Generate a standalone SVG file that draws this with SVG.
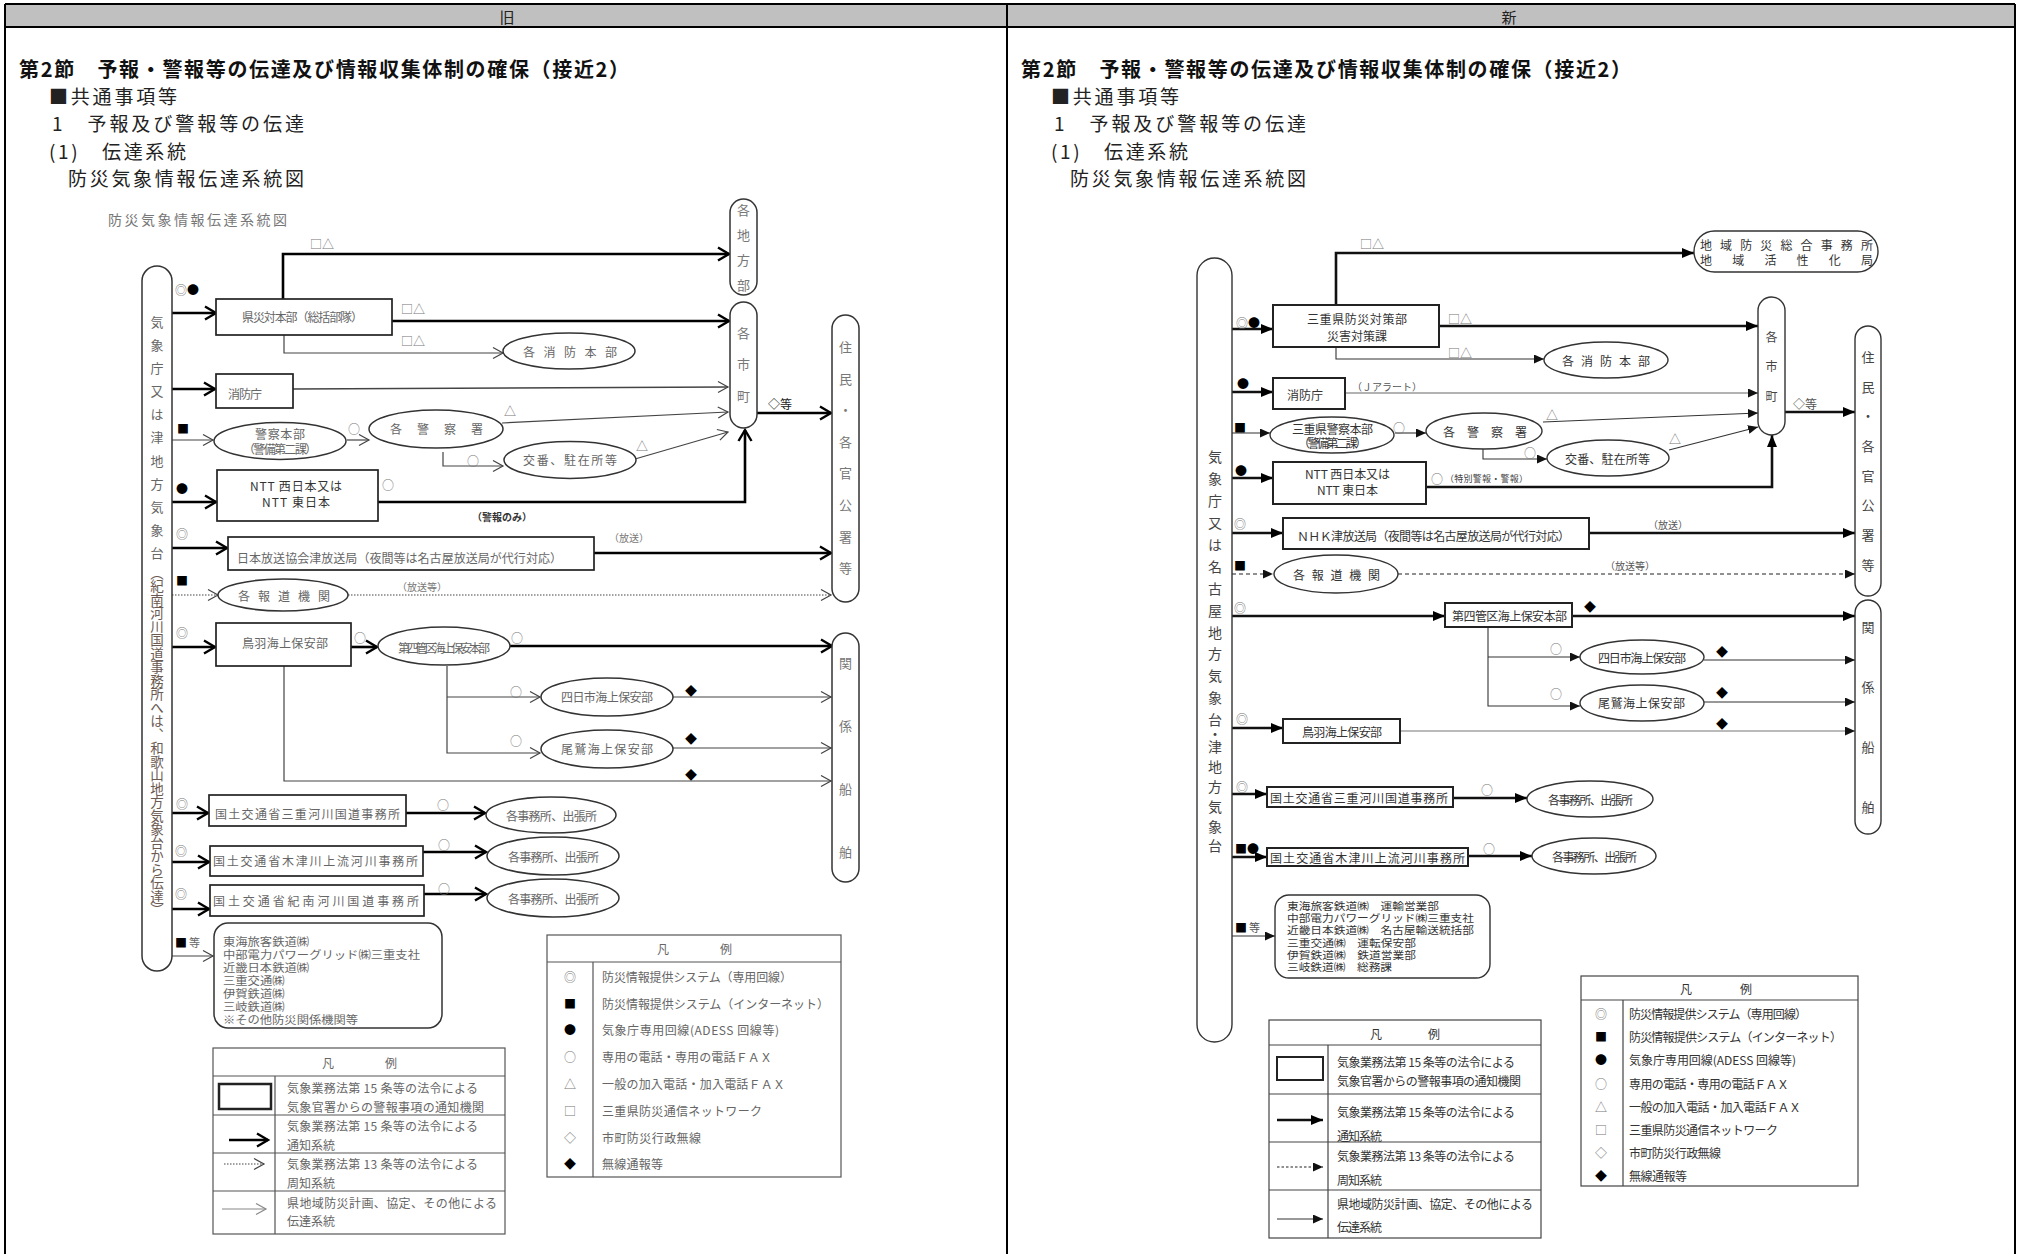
<svg xmlns="http://www.w3.org/2000/svg" width="2022" height="1254" viewBox="0 0 2022 1254">
<style>
text{font-family:"Noto Sans CJK JP","Noto Sans",sans-serif;dominant-baseline:central}
.h{font-size:19px;fill:#222}
.ti{font-size:20px;font-weight:bold;fill:#111}
.o{fill:#666;font-size:12px}
.od{fill:#333;font-size:12px}
.n{fill:#333;font-size:12px}
.m{text-anchor:middle}
.v{writing-mode:vertical-rl;text-anchor:start}
.ob{fill:#fff;stroke:#222;stroke-width:1.7}
.op{fill:#fff;stroke:#333;stroke-width:1.5}
.nb{fill:#fff;stroke:#222;stroke-width:2}
.np{fill:#fff;stroke:#333;stroke-width:1.4}
.k2{fill:none;stroke:#000;stroke-width:2.6}
.k1{fill:none;stroke:#444;stroke-width:1.2}
.kd{fill:none;stroke:#444;stroke-width:1.1;stroke-dasharray:1.5 1.5}
.n2{fill:none;stroke:#111;stroke-width:2.6}
.n1{fill:none;stroke:#333;stroke-width:1.1}
.ng{fill:none;stroke:#999;stroke-width:1.4}
.nd{fill:none;stroke:#222;stroke-width:1.1;stroke-dasharray:4 3}
.sg{fill:#777;font-size:12px}
.sb{fill:#000;font-size:12px}
.rl{fill:#666;font-size:10.8px}
.rn{fill:#333;font-size:10.2px}
</style>
<defs>
<marker id="ct" markerUnits="userSpaceOnUse" markerWidth="18" markerHeight="18" refX="13" refY="8" orient="auto"><path d="M2,1.5 L13,8 L2,14.5" fill="none" stroke="#000" stroke-width="2.4"/></marker>
<marker id="cn" markerUnits="userSpaceOnUse" markerWidth="15" markerHeight="14" refX="11" refY="6.5" orient="auto"><path d="M1,1 L11,6.5 L1,12" fill="none" stroke="#444" stroke-width="1.2"/></marker>
<marker id="cg" markerUnits="userSpaceOnUse" markerWidth="15" markerHeight="14" refX="11" refY="6.5" orient="auto"><path d="M1,1 L11,6.5 L1,12" fill="none" stroke="#888" stroke-width="1.2"/></marker>
<marker id="ft" markerUnits="userSpaceOnUse" markerWidth="14" markerHeight="12" refX="12" refY="5" orient="auto"><path d="M0,0 L12,5 L0,10 z" fill="#000"/></marker>
<marker id="fn" markerUnits="userSpaceOnUse" markerWidth="12" markerHeight="10" refX="10" refY="4.5" orient="auto"><path d="M0,0 L10,4.5 L0,9 z" fill="#111"/></marker>
</defs>
<rect width="2022" height="1254" fill="#fff"/>

<g id="page-frame">
<rect x="5" y="4" width="2010" height="23" fill="#c0c0c0"/>
<path d="M5,4H2015M5,27H2015" stroke="#000" stroke-width="1.8" fill="none"/>
<path d="M5,4V1254M1007,4V1254M2015,4V1254" stroke="#000" stroke-width="2" fill="none"/>
<text x="507" y="16" class="m" font-size="15" fill="#222">旧</text>
<text x="1509" y="16" class="m" font-size="15" fill="#222">新</text>
</g>

<g id="headings-old">
<text x="19" y="68" class="ti" textLength="610">第2節　予報・警報等の伝達及び情報収集体制の確保（接近2）</text>
<text x="49" y="95" class="h" textLength="128">■共通事項等</text>
<text x="52" y="122" class="h" textLength="252">1　予報及び警報等の伝達</text>
<text x="49" y="150" class="h" textLength="137">(1)　伝達系統</text>
<text x="68" y="177" class="h" textLength="236">防災気象情報伝達系統図</text>
</g>
<g id="headings-new">
<text x="1021" y="68" class="ti" textLength="610">第2節　予報・警報等の伝達及び情報収集体制の確保（接近2）</text>
<text x="1051" y="95" class="h" textLength="128">■共通事項等</text>
<text x="1054" y="122" class="h" textLength="252">1　予報及び警報等の伝達</text>
<text x="1051" y="150" class="h" textLength="137">(1)　伝達系統</text>
<text x="1070" y="177" class="h" textLength="236">防災気象情報伝達系統図</text>
</g>

<!-- ================= OLD DIAGRAM ================= -->
<g id="old-diagram">
<text id="o-caption" x="108" y="219" font-size="14" fill="#777" textLength="179">防災気象情報伝達系統図</text>

<g id="o-connectors">
<path class="k2" d="M172,313H216" marker-end="url(#ct)"/>
<path class="k2" d="M283,299V254H729" marker-end="url(#ct)"/>
<path class="k2" d="M392,321H729" marker-end="url(#ct)"/>
<path class="k1" d="M284,335V353H503" marker-end="url(#cn)"/>
<path class="k2" d="M172,389H215" marker-end="url(#ct)"/>
<path class="k1" style="stroke-width:1.6" d="M293,389L728,387" marker-end="url(#cn)"/>
<path class="k1" d="M172,440H213" marker-end="url(#cn)"/>
<path class="k1" d="M347,440H369" marker-end="url(#cn)"/>
<path class="k1" d="M502,423L728,412" marker-end="url(#cn)"/>
<path class="k1" d="M443,452V466H503" marker-end="url(#cn)"/>
<path class="k1" d="M635,459L728,432" marker-end="url(#cn)"/>
<path class="k2" d="M172,502H216" marker-end="url(#ct)"/>
<path class="k2" d="M378,502H745V430" marker-end="url(#ct)"/>
<path class="k2" d="M757,413H831" marker-end="url(#ct)"/>
<path class="k2" d="M172,548H227" marker-end="url(#ct)"/>
<path class="k2" d="M594,553H831" marker-end="url(#ct)"/>
<path class="kd" d="M172,595H218" marker-end="url(#cn)"/>
<path class="kd" d="M348,595H831" marker-end="url(#cn)"/>
<path class="k2" d="M172,647H215" marker-end="url(#ct)"/>
<path class="k2" d="M351,647H377" marker-end="url(#ct)"/>
<path class="k2" d="M510,646H832" marker-end="url(#ct)"/>
<path class="k1" d="M447,666V753H540" marker-end="url(#cn)"/>
<path class="k1" d="M447,697H540" marker-end="url(#cn)"/>
<path class="k1" d="M673,697H831" marker-end="url(#cn)"/>
<path class="k1" d="M673,748H831" marker-end="url(#cn)"/>
<path class="k1" d="M284,666V781H831" marker-end="url(#cn)"/>
<path class="k2" d="M172,813H208" marker-end="url(#ct)"/>
<path class="k2" d="M406,813H485" marker-end="url(#ct)"/>
<path class="k2" d="M172,862H209" marker-end="url(#ct)"/>
<path class="k2" d="M423,852H486" marker-end="url(#ct)"/>
<path class="k2" d="M172,909H209" marker-end="url(#ct)"/>
<path class="k2" d="M424,894H486" marker-end="url(#ct)"/>
<path class="k1" d="M172,956H213" marker-end="url(#cn)"/>
</g>

<g id="o-labels">
<text x="181" y="289" class="sg m">◎</text><text x="193" y="289" class="sb m">●</text>
<text x="316" y="243" class="sg m">□</text><text x="328" y="243" class="sg m">△</text>
<text x="407" y="308" class="sg m">□</text><text x="419" y="308" class="sg m">△</text>
<text x="407" y="340" class="sg m">□</text><text x="419" y="340" class="sg m">△</text>
<text x="183" y="428" class="sb m">■</text>
<text x="354" y="428" class="sg m">○</text>
<text x="510" y="410" class="sg m">△</text>
<text x="473" y="460" class="sg m">○</text>
<text x="642" y="445" class="sg m">△</text>
<text x="182" y="488" class="sb m">●</text>
<text x="388" y="484" class="sg m">○</text>
<text x="472" y="516" font-size="10" font-weight="bold" fill="#333" textLength="60">（警報のみ）</text>
<text x="768" y="403" font-size="12" fill="#222" textLength="24">◇等</text>
<text x="182" y="533" class="sg m">◎</text>
<text x="609" y="537" font-size="10" fill="#777" textLength="40">（放送）</text>
<text x="397" y="586" font-size="10" fill="#777" textLength="50">（放送等）</text>
<text x="182" y="580" class="sb m">■</text>
<text x="182" y="632" class="sg m">◎</text>
<text x="360" y="637" class="sg m">○</text>
<text x="517" y="637" class="sg m">○</text>
<text x="516" y="691" class="sg m">○</text>
<text x="691" y="690" class="sb m" font-size="10">◆</text>
<text x="516" y="740" class="sg m">○</text>
<text x="691" y="738" class="sb m" font-size="10">◆</text>
<text x="691" y="774" class="sb m" font-size="10">◆</text>
<text x="182" y="803" class="sg m">◎</text><text x="443" y="804" class="sg m">○</text>
<text x="181" y="850" class="sg m">◎</text><text x="444" y="844" class="sg m">○</text>
<text x="181" y="893" class="sg m">◎</text><text x="444" y="888" class="sg m">○</text>
<text x="181" y="942" class="sb m">■</text><text x="189" y="942" font-size="11" fill="#666">等</text>
</g>

<g id="o-jma">
<rect class="op" x="142" y="266" width="30" height="705" rx="15"/>
<text class="v" x="157" y="315.5" font-size="13" letter-spacing="10.1" fill="#666">気象庁又は津地方気象台</text>
<text class="v" x="157" y="566" font-size="13.5" fill="#6a5a52">（紀南河川国道事務所へは、和歌山地方気象台から伝達）</text>
</g>
<g id="o-ken"><rect class="ob" x="216" y="299" width="176" height="36"/><text x="242" y="316" class="o" font-size="11" textLength="121">県災対本部（総括部隊）</text></g>
<g id="o-chiho"><rect class="op" x="730" y="199" width="27" height="96" rx="13.5"/><text class="v" x="743.5" y="203.5" font-size="13" letter-spacing="12" fill="#777">各地方部</text></g>
<g id="o-shicho"><rect class="op" x="730" y="302" width="27" height="126" rx="13.5"/><text class="v" x="743.5" y="326.5" font-size="13" letter-spacing="18.5" fill="#777">各市町</text></g>
<g id="o-shobo"><ellipse class="op" cx="569" cy="351" rx="66" ry="18"/><text x="523" y="351" class="o" textLength="94">各消防本部</text></g>
<g id="o-fdma"><rect class="ob" x="216" y="374" width="77" height="34"/><text x="228" y="393" class="o" font-size="11" textLength="34">消防庁</text></g>
<g id="o-police"><ellipse class="op" cx="280" cy="441" rx="66" ry="18.5"/><text x="255" y="433.5" class="o" font-size="13" textLength="50">警察本部</text><text x="243" y="448.5" class="o" font-size="10.5" textLength="74">（警備第二課）</text></g>
<g id="o-station"><ellipse class="op" cx="436" cy="429" rx="67" ry="19"/><text x="390" y="428" class="o" textLength="93">各警察署</text></g>
<g id="o-koban"><ellipse class="op" cx="570" cy="460" rx="66" ry="18.5"/><text x="523" y="459" class="o" font-size="12.5" textLength="94">交番、駐在所等</text></g>
<g id="o-ntt"><rect class="ob" x="217" y="470" width="161" height="51"/><text x="250" y="485" class="od" font-size="13" textLength="92">NTT 西日本又は</text><text x="262" y="501" class="od" font-size="13" textLength="68">NTT 東日本</text></g>
<g id="o-nhk"><rect class="ob" x="228" y="537" width="366" height="33"/><text x="237" y="557" class="o" textLength="325">日本放送協会津放送局（夜間等は名古屋放送局が代行対応）</text></g>
<g id="o-jumin"><rect class="op" x="832" y="315" width="27" height="287" rx="13.5"/><text class="v" x="845.5" y="340.5" font-size="13" letter-spacing="18.6" fill="#777">住民・各官公署等</text></g>
<g id="o-media"><ellipse class="op" cx="283" cy="595" rx="65" ry="16"/><text x="238" y="595" class="o" textLength="92">各報道機関</text></g>
<g id="o-toba"><rect class="ob" x="216" y="623" width="135" height="43"/><text x="242" y="642" class="o" font-size="13" textLength="86">鳥羽海上保安部</text></g>
<g id="o-4kanku"><ellipse class="op" cx="444" cy="646" rx="66" ry="19"/><text x="398" y="647" class="o" font-size="9" textLength="92">第四管区海上保安本部</text></g>
<g id="o-yokkaichi"><ellipse class="op" cx="607" cy="697" rx="66" ry="19"/><text x="561" y="696" class="o" font-size="11" textLength="92">四日市海上保安部</text></g>
<g id="o-owase"><ellipse class="op" cx="607" cy="749" rx="66" ry="19"/><text x="561" y="748" class="o" font-size="13" textLength="92">尾鷲海上保安部</text></g>
<g id="o-sempaku"><rect class="op" x="832" y="633" width="27" height="249" rx="13.5"/><text class="v" x="845.5" y="656.5" font-size="13" letter-spacing="50" fill="#777">関係船舶</text></g>
<g id="o-mie"><rect class="ob" x="209" y="795" width="197" height="31"/><text x="215" y="813" class="o" textLength="185">国土交通省三重河川国道事務所</text></g>
<g id="o-office1"><ellipse class="op" cx="551" cy="815" rx="65" ry="18"/><text x="506" y="815" class="o" font-size="11" textLength="91">各事務所、出張所</text></g>
<g id="o-kizu"><rect class="ob" x="210" y="846" width="213" height="30"/><text x="213" y="860" class="o" textLength="205">国土交通省木津川上流河川事務所</text></g>
<g id="o-office2"><ellipse class="op" cx="553" cy="856" rx="66" ry="19"/><text x="508" y="856" class="o" font-size="11" textLength="91">各事務所、出張所</text></g>
<g id="o-kinan"><rect class="ob" x="210" y="885" width="214" height="31"/><text x="213" y="900" class="o" textLength="206">国土交通省紀南河川国道事務所</text></g>
<g id="o-office3"><ellipse class="op" cx="553" cy="898" rx="66" ry="19"/><text x="508" y="898" class="o" font-size="11" textLength="91">各事務所、出張所</text></g>
<g id="o-rail">
<rect class="op" x="214" y="923" width="228" height="105" rx="14"/>
<text x="223" y="941" class="rl" textLength="86" lengthAdjust="spacingAndGlyphs">東海旅客鉄道㈱</text>
<text x="223" y="954" class="rl" textLength="197" lengthAdjust="spacingAndGlyphs">中部電力パワーグリッド㈱三重支社</text>
<text x="223" y="967" class="rl" textLength="86" lengthAdjust="spacingAndGlyphs">近畿日本鉄道㈱</text>
<text x="223" y="980" class="rl" textLength="61.5" lengthAdjust="spacingAndGlyphs">三重交通㈱</text>
<text x="223" y="993" class="rl" textLength="61.5" lengthAdjust="spacingAndGlyphs">伊賀鉄道㈱</text>
<text x="223" y="1006" class="rl" textLength="61.5" lengthAdjust="spacingAndGlyphs">三岐鉄道㈱</text>
<text x="223" y="1019" class="rl" textLength="135" lengthAdjust="spacingAndGlyphs">※その他防災関係機関等</text>
</g>

<g id="o-legend-lines">
<rect x="213" y="1048" width="292" height="186" fill="#fff" stroke="#555" stroke-width="1.2"/>
<path d="M213,1076H505M213,1115H505M213,1153H505M213,1191H505M275,1076V1234" stroke="#555" stroke-width="1.2" fill="none"/>
<text x="322" y="1062" class="o" textLength="75">凡　　例</text>
<rect x="219" y="1084" width="52" height="25" fill="none" stroke="#222" stroke-width="2.5"/>
<text x="287" y="1087" class="o" textLength="191">気象業務法第 15 条等の法令による</text>
<text x="287" y="1106" class="o" textLength="197">気象官署からの警報事項の通知機関</text>
<path class="k2" d="M229,1140H268" marker-end="url(#ct)"/>
<text x="287" y="1125" class="o" textLength="191">気象業務法第 15 条等の法令による</text>
<text x="287" y="1144" class="o" textLength="48">通知系統</text>
<path class="kd" d="M224,1164H264" marker-end="url(#cn)"/>
<text x="287" y="1163" class="o" textLength="191">気象業務法第 13 条等の法令による</text>
<text x="287" y="1182" class="o" textLength="48">周知系統</text>
<path fill="none" stroke="#888" stroke-width="1.2" d="M222,1209H266" marker-end="url(#cg)"/>
<text x="287" y="1202" class="o" textLength="210">県地域防災計画、協定、その他による</text>
<text x="287" y="1220" class="o" textLength="48">伝達系統</text>
</g>

<g id="o-legend-symbols">
<rect x="547" y="935" width="294" height="242" fill="#fff" stroke="#555" stroke-width="1.2"/>
<path d="M547,962H841M593,962V1177" stroke="#555" stroke-width="1.2" fill="none"/>
<text x="657" y="948" class="o" textLength="75">凡　　例</text>
<text x="570" y="976" class="sg m">◎</text><text x="602" y="976" class="o" textLength="190">防災情報提供システム（専用回線）</text>
<text x="570" y="1003" class="sb m">■</text><text x="602" y="1003" class="o" textLength="227">防災情報提供システム（インターネット）</text>
<text x="570" y="1029" class="sb m" font-size="13">●</text><text x="602" y="1029" class="o" textLength="177">気象庁専用回線(ADESS 回線等)</text>
<text x="570" y="1056" class="sg m">○</text><text x="602" y="1056" class="o" textLength="170">専用の電話・専用の電話ＦＡＸ</text>
<text x="570" y="1083" class="sg m">△</text><text x="602" y="1083" class="o" textLength="183">一般の加入電話・加入電話ＦＡＸ</text>
<text x="570" y="1110" class="sg m">□</text><text x="602" y="1110" class="o" textLength="160">三重県防災通信ネットワーク</text>
<text x="570" y="1137" class="sg m">◇</text><text x="602" y="1137" class="o" textLength="99">市町防災行政無線</text>
<text x="570" y="1163" class="sb m">◆</text><text x="602" y="1163" class="o" textLength="61">無線通報等</text>
</g>
</g>

<!-- ================= NEW DIAGRAM ================= -->
<g id="new-diagram">
<g id="n-connectors">
<path class="n2" d="M1232,329H1273" marker-end="url(#ft)"/>
<path class="n2" d="M1336,305V253H1694" marker-end="url(#ft)"/>
<path class="n2" d="M1439,326H1758" marker-end="url(#ft)"/>
<path class="n1" d="M1336,347V359H1544" marker-end="url(#fn)"/>
<path class="n2" d="M1232,392H1273" marker-end="url(#ft)"/>
<path class="ng" d="M1345,393H1758" marker-end="url(#fn)"/>
<path class="n1" d="M1232,433H1270" marker-end="url(#fn)"/>
<path class="n1" d="M1395,433H1426" marker-end="url(#fn)"/>
<path class="n1" d="M1543,422L1758,413" marker-end="url(#fn)"/>
<path class="n1" d="M1483,449V459H1547" marker-end="url(#fn)"/>
<path class="n1" d="M1669,450L1758,427" marker-end="url(#fn)"/>
<path class="n2" d="M1232,478H1273" marker-end="url(#ft)"/>
<path class="n2" d="M1426,487H1772V435" marker-end="url(#ft)"/>
<path class="n2" d="M1785,412H1855" marker-end="url(#ft)"/>
<path class="n2" d="M1232,533H1283" marker-end="url(#ft)"/>
<path class="n2" d="M1589,533H1855" marker-end="url(#ft)"/>
<path class="nd" d="M1232,574H1273" marker-end="url(#fn)"/>
<path class="nd" d="M1398,574H1855" marker-end="url(#fn)"/>
<path class="n2" d="M1232,616H1445" marker-end="url(#ft)"/>
<path class="n2" d="M1572,616H1855" marker-end="url(#ft)"/>
<path class="n1" d="M1488,627V706H1580" marker-end="url(#fn)"/>
<path class="n1" d="M1488,657H1580" marker-end="url(#fn)"/>
<path class="n1" d="M1704,660H1855" marker-end="url(#fn)"/>
<path class="n1" d="M1704,702H1855" marker-end="url(#fn)"/>
<path class="n2" d="M1232,728H1283" marker-end="url(#ft)"/>
<path class="n1" style="stroke:#777" d="M1400,731H1855" marker-end="url(#fn)"/>
<path class="n2" d="M1232,794H1267" marker-end="url(#ft)"/>
<path class="n2" d="M1453,798H1527" marker-end="url(#ft)"/>
<path class="n2" d="M1232,857H1267" marker-end="url(#ft)"/>
<path class="n2" d="M1468,856H1532" marker-end="url(#ft)"/>
<path class="n1" d="M1232,936H1275" marker-end="url(#fn)"/>
</g>

<g id="n-labels">
<text x="1242" y="322" class="sg m">◎</text><text x="1254" y="322" class="sb m">●</text>
<text x="1366" y="243" class="sg m">□</text><text x="1378" y="243" class="sg m">△</text>
<text x="1454" y="318" class="sg m">□</text><text x="1466" y="318" class="sg m">△</text>
<text x="1454" y="352" class="sg m">□</text><text x="1466" y="352" class="sg m">△</text>
<text x="1243" y="383" class="sb m">●</text>
<text x="1352" y="386" font-size="10" fill="#555" textLength="70">（Ｊアラート）</text>
<text x="1240" y="427" class="sb m">■</text>
<text x="1399" y="427" class="sg m">○</text>
<text x="1552" y="414" class="sg m">△</text>
<text x="1530" y="452" class="sg m">○</text>
<text x="1675" y="438" class="sg m">△</text>
<text x="1241" y="470" class="sb m">●</text>
<text x="1437" y="478" class="sg m">○</text><text x="1445" y="478" font-size="9" fill="#444" textLength="83">（特別警報・警報）</text>
<text x="1793" y="403" font-size="12" fill="#555" textLength="24">◇等</text>
<text x="1240" y="523" class="sg m">◎</text>
<text x="1648" y="524" font-size="10" fill="#555" textLength="40">（放送）</text>
<text x="1240" y="565" class="sb m">■</text>
<text x="1605" y="565" font-size="10" fill="#555" textLength="50">（放送等）</text>
<text x="1240" y="607" class="sg m">◎</text>
<text x="1590" y="606" class="sb m" font-size="10">◆</text>
<text x="1556" y="648" class="sg m">○</text>
<text x="1556" y="693" class="sg m">○</text>
<text x="1722" y="651" class="sb m" font-size="10">◆</text>
<text x="1722" y="692" class="sb m" font-size="10">◆</text>
<text x="1722" y="723" class="sb m" font-size="10">◆</text>
<text x="1242" y="718" class="sg m">◎</text>
<text x="1242" y="786" class="sg m">◎</text><text x="1487" y="789" class="sg m">○</text>
<text x="1241" y="848" class="sb m">■</text><text x="1253" y="848" class="sb m">●</text><text x="1489" y="848" class="sg m">○</text>
<text x="1241" y="927" class="sb m">■</text><text x="1249" y="927" font-size="11" fill="#555">等</text>
</g>

<g id="n-jma">
<rect class="np" x="1197" y="258" width="35" height="784" rx="17.5"/>
<text class="v" x="1215" y="450" font-size="14" letter-spacing="7.9" fill="#444">気象庁又は名古屋地方気象台</text>
<text x="1215" y="733" class="m" font-size="14" fill="#444">・</text>
<text class="v" x="1215" y="740" font-size="14" letter-spacing="5.8" fill="#444">津地方気象台</text>
</g>
<g id="n-bosai"><rect class="nb" x="1273" y="305" width="166" height="42"/><text x="1307" y="318" class="n" font-size="12.5" textLength="100">三重県防災対策部</text><text x="1327" y="335" class="n" font-size="12" textLength="60">災害対策課</text></g>
<g id="n-chiiki"><rect class="np" x="1694" y="231" width="184" height="41" rx="20.5"/><text x="1700" y="244" class="n" textLength="173">地域防災総合事務所</text><text x="1700" y="259" class="n" textLength="173">地域活性化局</text></g>
<g id="n-shicho"><rect class="np" x="1758" y="297" width="27" height="138" rx="13.5"/><text class="v" x="1771.5" y="331" font-size="12" letter-spacing="17.5" fill="#444">各市町</text></g>
<g id="n-shobo"><ellipse class="np" cx="1606" cy="360" rx="62" ry="18"/><text x="1562" y="360" class="n" textLength="88">各消防本部</text></g>
<g id="n-fdma"><rect class="nb" x="1273" y="378" width="72" height="31"/><text x="1287" y="394" class="n" textLength="36">消防庁</text></g>
<g id="n-police"><ellipse class="np" cx="1332" cy="435" rx="62" ry="18"/><text x="1292" y="428.5" class="n" font-size="11.5" textLength="81">三重県警察本部</text><text x="1298" y="442.5" class="n" font-size="9.8" textLength="69">（警備第二課）</text></g>
<g id="n-station"><ellipse class="np" cx="1484" cy="431" rx="58" ry="18"/><text x="1443" y="431" class="n" textLength="84">各警察署</text></g>
<g id="n-koban"><ellipse class="np" cx="1608" cy="458" rx="61" ry="18"/><text x="1565" y="458" class="n" textLength="85">交番、駐在所等</text></g>
<g id="n-ntt"><rect class="nb" x="1273" y="462" width="153" height="42"/><text x="1305" y="473" class="n" textLength="85">NTT 西日本又は</text><text x="1317" y="489" class="n" textLength="61">NTT 東日本</text></g>
<g id="n-nhk"><rect class="nb" x="1283" y="518" width="306" height="31"/><text x="1297" y="535" class="n" font-size="11.3" textLength="273">ＮＨＫ津放送局（夜間等は名古屋放送局が代行対応）</text></g>
<g id="n-jumin"><rect class="np" x="1855" y="326" width="26" height="270" rx="13"/><text class="v" x="1868" y="350.5" font-size="13" letter-spacing="16.7" fill="#444">住民・各官公署等</text></g>
<g id="n-media"><ellipse class="np" cx="1336" cy="574" rx="62" ry="19"/><text x="1293" y="574" class="n" textLength="87">各報道機関</text></g>
<g id="n-4kanku"><rect class="nb" x="1445" y="603" width="127" height="24"/><text x="1452" y="615" class="n" font-size="11" textLength="115">第四管区海上保安本部</text></g>
<g id="n-yokkaichi"><ellipse class="np" cx="1642" cy="657" rx="62" ry="17"/><text x="1598" y="657" class="n" font-size="11" textLength="88">四日市海上保安部</text></g>
<g id="n-owase"><ellipse class="np" cx="1642" cy="703" rx="62" ry="18"/><text x="1598" y="702" class="n" font-size="12.5" textLength="87">尾鷲海上保安部</text></g>
<g id="n-sempaku"><rect class="np" x="1855" y="600" width="26" height="234" rx="13"/><text class="v" x="1868" y="620.5" font-size="13" letter-spacing="47" fill="#444">関係船舶</text></g>
<g id="n-toba"><rect class="nb" x="1283" y="719" width="117" height="24"/><text x="1302" y="731" class="n" font-size="11.5" textLength="80">鳥羽海上保安部</text></g>
<g id="n-mie"><rect class="nb" x="1267" y="787" width="186" height="20"/><text x="1270" y="797" class="n" font-size="12.5" textLength="178">国土交通省三重河川国道事務所</text></g>
<g id="n-office1"><ellipse class="np" cx="1590" cy="799" rx="63" ry="18"/><text x="1548" y="799" class="n" font-size="10.5" textLength="85">各事務所、出張所</text></g>
<g id="n-kizu"><rect class="nb" x="1267" y="848" width="201" height="18"/><text x="1270" y="857" class="n" font-size="12.5" textLength="195">国土交通省木津川上流河川事務所</text></g>
<g id="n-office2"><ellipse class="np" cx="1594" cy="856" rx="62" ry="18"/><text x="1552" y="856" class="n" font-size="10.5" textLength="85">各事務所、出張所</text></g>
<g id="n-rail">
<rect class="np" x="1275" y="895" width="215" height="83" rx="14"/>
<text x="1287" y="905.5" class="rn" textLength="152" lengthAdjust="spacingAndGlyphs">東海旅客鉄道㈱　運輸営業部</text>
<text x="1287" y="917.7" class="rn" textLength="187" lengthAdjust="spacingAndGlyphs">中部電力パワーグリッド㈱三重支社</text>
<text x="1287" y="929.9" class="rn" textLength="187" lengthAdjust="spacingAndGlyphs">近畿日本鉄道㈱　名古屋輸送統括部</text>
<text x="1287" y="942.1" class="rn" textLength="129" lengthAdjust="spacingAndGlyphs">三重交通㈱　運転保安部</text>
<text x="1287" y="954.3" class="rn" textLength="129" lengthAdjust="spacingAndGlyphs">伊賀鉄道㈱　鉄道営業部</text>
<text x="1287" y="966.5" class="rn" textLength="105" lengthAdjust="spacingAndGlyphs">三岐鉄道㈱　総務課</text>
</g>

<g id="n-legend-lines">
<rect x="1269" y="1020" width="272" height="218" fill="#fff" stroke="#444" stroke-width="1.2"/>
<path d="M1269,1045H1541M1269,1094H1541M1269,1142H1541M1269,1190H1541M1328,1045V1238" stroke="#444" stroke-width="1.2" fill="none"/>
<text x="1370" y="1033" class="n" font-size="11.5" textLength="70">凡　　例</text>
<rect x="1277" y="1057" width="46" height="23" fill="none" stroke="#222" stroke-width="2"/>
<text x="1337" y="1061" class="n" font-size="11.5" textLength="178">気象業務法第 15 条等の法令による</text>
<text x="1337" y="1080" class="n" font-size="11.5" textLength="184">気象官署からの警報事項の通知機関</text>
<path class="n2" d="M1277,1120H1323" marker-end="url(#ft)"/>
<text x="1337" y="1111" class="n" font-size="11.5" textLength="178">気象業務法第 15 条等の法令による</text>
<text x="1337" y="1135" class="n" font-size="11.5" textLength="45">通知系統</text>
<path class="nd" style="stroke-dasharray:2.5 2" d="M1277,1167H1323" marker-end="url(#fn)"/>
<text x="1337" y="1155" class="n" font-size="11.5" textLength="178">気象業務法第 13 条等の法令による</text>
<text x="1337" y="1179" class="n" font-size="11.5" textLength="45">周知系統</text>
<path class="n1" d="M1277,1219H1323" marker-end="url(#fn)"/>
<text x="1337" y="1203" class="n" font-size="11.5" textLength="196">県地域防災計画、協定、その他による</text>
<text x="1337" y="1226" class="n" font-size="11.5" textLength="45">伝達系統</text>
</g>

<g id="n-legend-symbols">
<rect x="1581" y="976" width="277" height="210" fill="#fff" stroke="#444" stroke-width="1.2"/>
<path d="M1581,1000H1858M1623,1000V1186" stroke="#444" stroke-width="1.2" fill="none"/>
<text x="1680" y="988" class="n" font-size="11.5" textLength="72">凡　　例</text>
<text x="1601" y="1013" class="sg m" font-size="11">◎</text><text x="1629" y="1013" class="n" font-size="11.2" textLength="178">防災情報提供システム（専用回線）</text>
<text x="1601" y="1036" class="sb m" font-size="11">■</text><text x="1629" y="1036" class="n" font-size="11.2" textLength="213">防災情報提供システム（インターネット）</text>
<text x="1601" y="1059" class="sb m" font-size="12">●</text><text x="1629" y="1059" class="n" font-size="11.2" textLength="167">気象庁専用回線(ADESS 回線等)</text>
<text x="1601" y="1083" class="sg m" font-size="11">○</text><text x="1629" y="1083" class="n" font-size="11.2" textLength="160">専用の電話・専用の電話ＦＡＸ</text>
<text x="1601" y="1106" class="sg m" font-size="11">△</text><text x="1629" y="1106" class="n" font-size="11.2" textLength="172">一般の加入電話・加入電話ＦＡＸ</text>
<text x="1601" y="1129" class="sg m" font-size="11">□</text><text x="1629" y="1129" class="n" font-size="11.2" textLength="149">三重県防災通信ネットワーク</text>
<text x="1601" y="1152" class="sg m" font-size="11">◇</text><text x="1629" y="1152" class="n" font-size="11.2" textLength="92">市町防災行政無線</text>
<text x="1601" y="1175" class="sb m" font-size="11">◆</text><text x="1629" y="1175" class="n" font-size="11.2" textLength="58">無線通報等</text>
</g>
</g>
</svg>
